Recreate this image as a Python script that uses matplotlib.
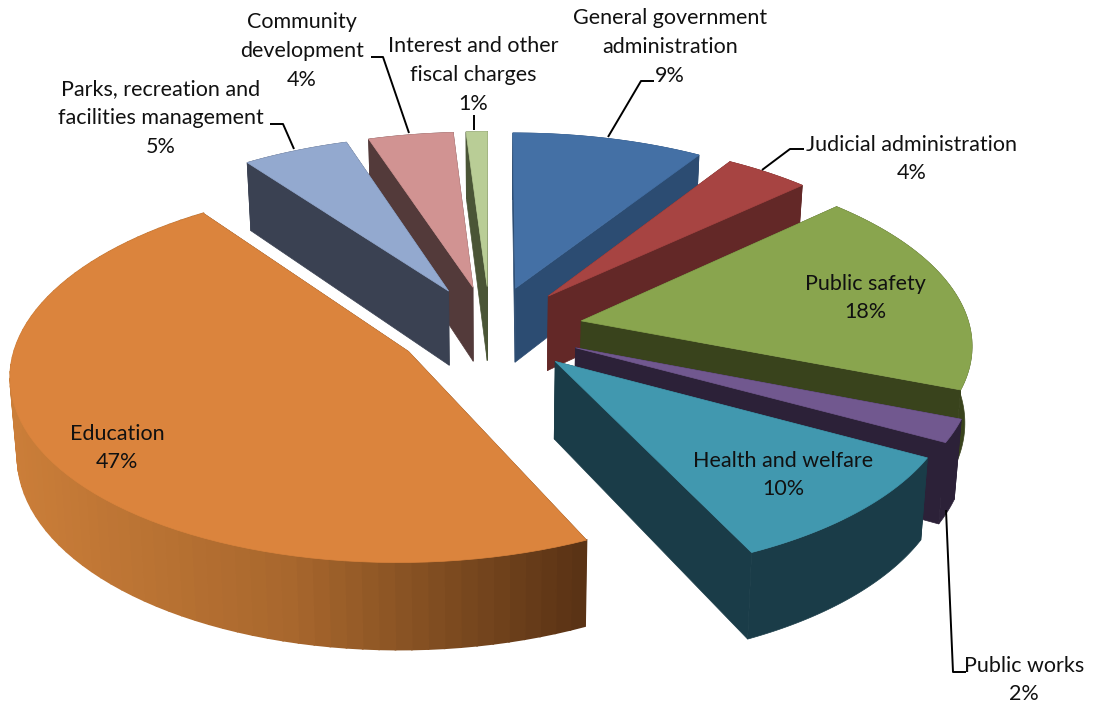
import numpy as np
import matplotlib
matplotlib.use("Agg")
import matplotlib.pyplot as plt
from matplotlib.patches import Polygon

plt.rcParams['font.family'] = ['Lato', 'DejaVu Sans']

# spending shares, clockwise from twelve o'clock
categories = ["General government\nadministration", "Judicial administration", "Public safety",
              "Public works", "Health and welfare", "Education",
              "Parks, recreation and\nfacilities management", "Community\ndevelopment",
              "Interest and other\nfiscal charges"]
shares = [9, 4, 18, 2, 10, 47, 5, 4, 1]
top_colors = ["#4470A5", "#A74442", "#89A54E", "#71588F", "#4198AF", "#DB843D", "#93A9CF", "#D19392", "#B9CD96"]
side_colors = ["#2C4C72", "#632827", "#39431C", "#2C2138", "#1A3C48", "#5A3315", "#3A4152", "#533A3A", "#4A5536"]

# camera and pie geometry, in pixels
CX, CY = 490, 329
SX, SY = 389, 181.6
PERSP = 0.1135
DEPTH = 76
EXPLODE = 0.24
BOTTOM_SHRINK = 0.985  # the lower plane sits farther from the camera


def project(x, y, down=False):
    w = 1 - PERSP * y
    px = SX * x / w
    py = CY + SY * y / w
    if down:
        px = px * BOTTOM_SHRINK
        py = py + DEPTH / w
    return np.column_stack([CX + px, py])


def mix(c1, c2, t):
    a = np.array(matplotlib.colors.to_rgb(c1))
    b = np.array(matplotlib.colors.to_rgb(c2))
    return tuple(a + (b - a) * t)


fig = plt.figure(figsize=(10.93, 7.06), dpi=100)
ax = fig.add_axes([0, 0, 1, 1])
ax.set_xlim(0, 1093)
ax.set_ylim(706, 0)
ax.axis("off")

edges = np.cumsum([0] + shares) / 100 * 2 * np.pi
mids = (edges[:-1] + edges[1:]) / 2

# paint back to front so nearer slices cover farther ones
order = np.argsort(-np.cos(mids))
for rank, i in enumerate(order):
    z = rank + 1
    ox = EXPLODE * np.sin(mids[i])
    oy = -EXPLODE * np.cos(mids[i])
    t = np.linspace(edges[i], edges[i + 1], 80)
    rx = ox + np.sin(t)
    ry = oy - np.cos(t)

    # the two cut faces
    for k in (0, -1):
        top = project(np.array([ox, rx[k]]), np.array([oy, ry[k]]))
        bot = project(np.array([rx[k], ox]), np.array([ry[k], oy]), down=True)
        ax.add_patch(Polygon(np.vstack([top, bot]), closed=True, fc=side_colors[i], ec=side_colors[i], lw=0.5, zorder=z))

    # outer rim; Education shades along the arc, so it goes in strips
    top = project(rx, ry)
    bot = project(rx, ry, down=True)
    if categories[i] == "Education":
        for j in range(len(t) - 1):
            f = (top[j, 0] - 10) / 575
            if f < 0.5:
                col = mix("#CB7E39", "#A8672D", f / 0.5)
            else:
                col = mix("#A8672D", "#5A3315", (f - 0.5) / 0.5)
            ax.add_patch(Polygon([top[j], top[j + 1], bot[j + 1], bot[j]], closed=True, fc=col, ec=col, lw=1.2, zorder=z))
    else:
        ax.add_patch(Polygon(np.vstack([top, bot[::-1]]), closed=True, fc=side_colors[i], ec=side_colors[i], lw=0.5, zorder=z))

    # top face
    face = np.vstack([project(np.array([ox]), np.array([oy])), top])
    ax.add_patch(Polygon(face, closed=True, fc=top_colors[i], ec=top_colors[i], lw=0.5, zorder=z + 0.5))

# leader lines
leaders = [
    ([608, 641, 654], [137, 81, 81]),
    ([762, 790, 804], [170, 149, 149]),
    ([946, 953, 966], [510, 672, 672]),
    ([294, 283, 270], [149, 124, 124]),
    ([409, 383, 371], [133, 57, 57]),
    ([474, 474], [130, 115]),
]
for xs, ys in leaders:
    ax.plot(xs, ys, color="black", lw=1.4, zorder=20, solid_capstyle="butt")

# label centres: one entry per slice
label_x = [670, 912, 865, 1024, 783, 117, 161, 302, 473]
label_y = [47, 159, 298, 680, 475, 448, 118, 51, 75]
for name, val, lx, ly in zip(categories, shares, label_x, label_y):
    ax.text(lx, ly, name + "\n" + str(val) + "%", ha="center", va="center", fontsize=15.5,
            color="#111111", linespacing=1.55, zorder=30)

fig.savefig("out.png", dpi=100)
